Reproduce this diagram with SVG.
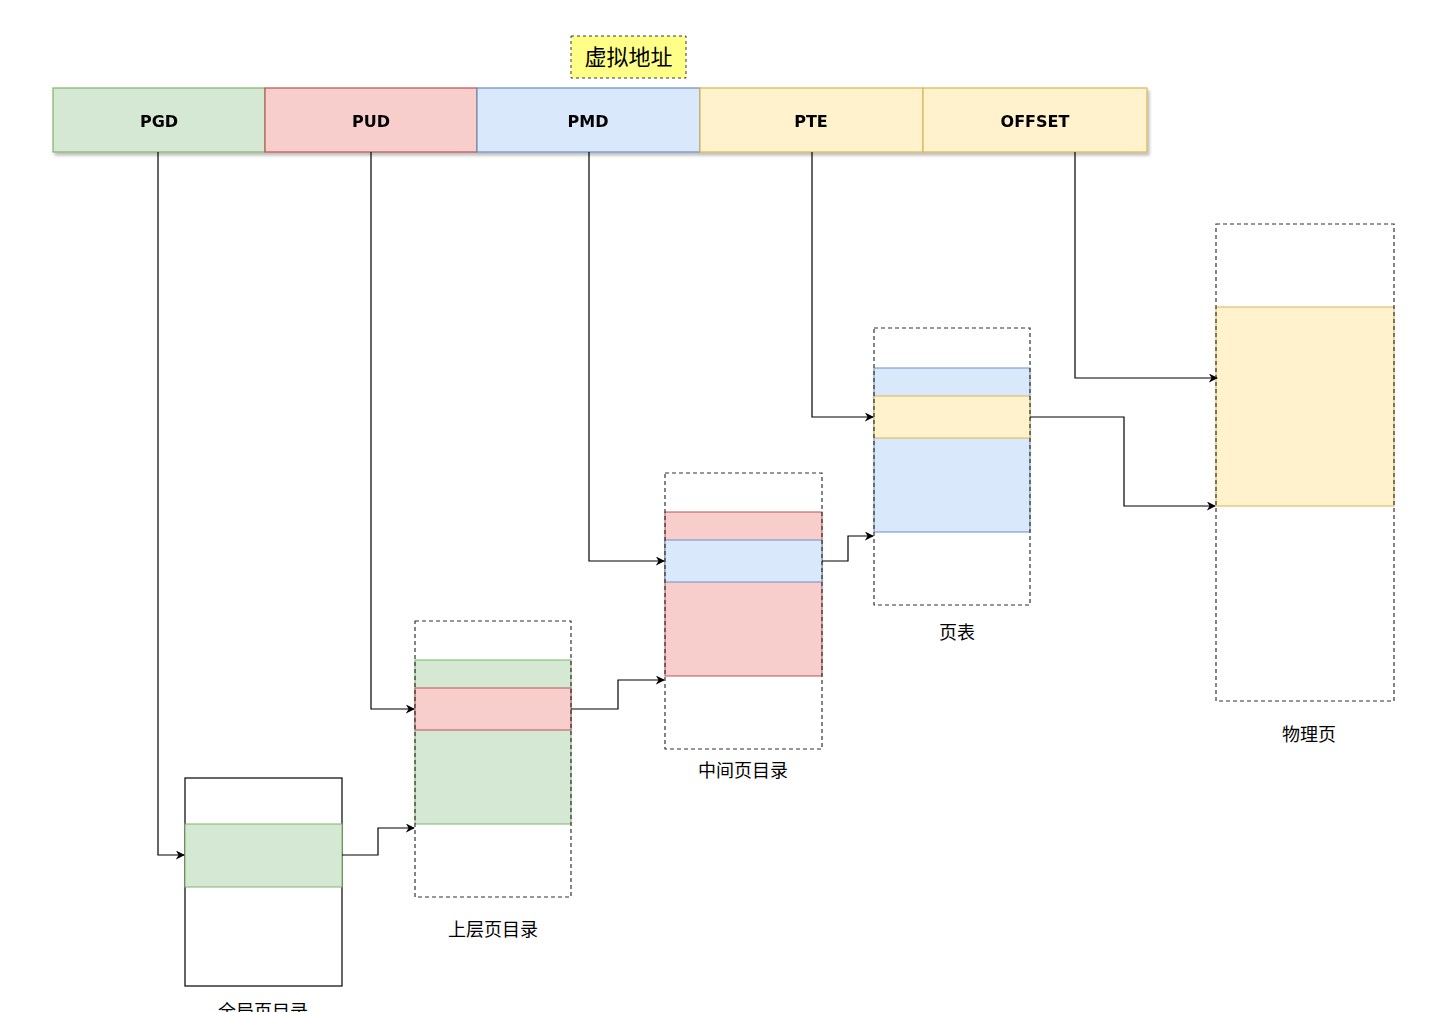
<svg xmlns="http://www.w3.org/2000/svg" width="1448" height="1012" viewBox="0 0 1448 1012">
<defs>
<marker id="arr" viewBox="0 0 10 10" refX="9" refY="5" markerWidth="9" markerHeight="9" orient="auto" markerUnits="userSpaceOnUse">
<path d="M0,0 L10,5 L0,10 L3,5 Z" fill="#000"/>
</marker>
<filter id="sh" x="-5%" y="-20%" width="110%" height="150%">
<feDropShadow dx="2" dy="3" stdDeviation="1.5" flood-color="#000" flood-opacity="0.25"/>
</filter>
</defs>
<style>
.seg{stroke-width:1.2}
.g{fill:#d5e8d4;stroke:#82b366}
.r{fill:#f8cecc;stroke:#b85450}
.b{fill:#dae8fc;stroke:#6c8ebf}
.y{fill:#fff2cc;stroke:#d6b656}
.dash{fill:none;stroke:#333;stroke-width:1.2;stroke-dasharray:4 3}
.lbl{font-family:"Liberation Sans","Noto Sans CJK SC",sans-serif;font-size:18px;fill:#000;text-anchor:middle}
.seglbl{font-family:"Comic Sans MS","DejaVu Sans",sans-serif;font-size:16px;font-weight:bold;fill:#000;text-anchor:middle}
.conn{fill:none;stroke:#000;stroke-width:1.2}
</style>
<rect width="1448" height="1012" fill="#fff"/>

<g id="title">
<rect x="571" y="36" width="115" height="42" fill="#ffff88" stroke="#36393d" stroke-width="1" stroke-dasharray="3 3"/>
<text x="628.5" y="65" class="lbl" style="font-size:22px">虚拟地址</text>
</g>

<g id="vaddr" filter="url(#sh)">
<g id="pgd"><rect x="53" y="88" width="212" height="64" class="g seg"/><text x="159" y="127" class="seglbl">PGD</text></g>
<g id="pud"><rect x="265" y="88" width="212" height="64" class="r seg"/><text x="371" y="127" class="seglbl">PUD</text></g>
<g id="pmd"><rect x="477" y="88" width="223" height="64" class="b seg"/><text x="588" y="127" class="seglbl">PMD</text></g>
<g id="pte"><rect x="700" y="88" width="223" height="64" class="y seg"/><text x="811" y="127" class="seglbl">PTE</text></g>
<g id="offset"><rect x="923" y="88" width="224" height="64" class="y seg"/><text x="1035" y="127" class="seglbl">OFFSET</text></g>
</g>

<g id="global-dir">
<rect x="185" y="778" width="157" height="208" fill="#fff" stroke="#000" stroke-width="1.2"/>
<rect x="185" y="824" width="157" height="63" class="g"/>
<text x="263" y="1018" class="lbl">全局页目录</text>
</g>

<g id="upper-dir">
<rect x="415" y="660" width="156" height="164" class="g"/>
<rect x="415" y="688" width="156" height="42" class="r"/>
<rect x="415" y="621" width="156" height="276" class="dash"/>
<text x="493" y="936" class="lbl">上层页目录</text>
</g>

<g id="middle-dir">
<rect x="665" y="512" width="157" height="164" class="r"/>
<rect x="665" y="540" width="157" height="42" class="b"/>
<rect x="665" y="473" width="157" height="276" class="dash"/>
<text x="743" y="777" class="lbl">中间页目录</text>
</g>

<g id="page-table">
<rect x="874" y="368" width="156" height="164" class="b"/>
<rect x="874" y="396" width="156" height="42" class="y"/>
<rect x="874" y="328" width="156" height="277" class="dash"/>
<text x="957" y="639" class="lbl">页表</text>
</g>

<g id="phys-page">
<rect x="1216" y="307" width="178" height="199" class="y"/>
<rect x="1216" y="224" width="178" height="477" class="dash"/>
<text x="1309" y="741" class="lbl">物理页</text>
</g>

<g id="connectors">
<path d="M158,152 V855 H184" class="conn" marker-end="url(#arr)"/>
<path d="M371,152 V709 H414" class="conn" marker-end="url(#arr)"/>
<path d="M589,152 V561 H664" class="conn" marker-end="url(#arr)"/>
<path d="M812,152 V417 H873" class="conn" marker-end="url(#arr)"/>
<path d="M1075,152 V378 H1217" class="conn" marker-end="url(#arr)"/>
<path d="M342,855 H378 V828 H414" class="conn" marker-end="url(#arr)"/>
<path d="M571,709 H618 V680 H664" class="conn" marker-end="url(#arr)"/>
<path d="M822,561 H848 V536 H873" class="conn" marker-end="url(#arr)"/>
<path d="M1030,417 H1124 V506 H1215" class="conn" marker-end="url(#arr)"/>
</g>
</svg>
